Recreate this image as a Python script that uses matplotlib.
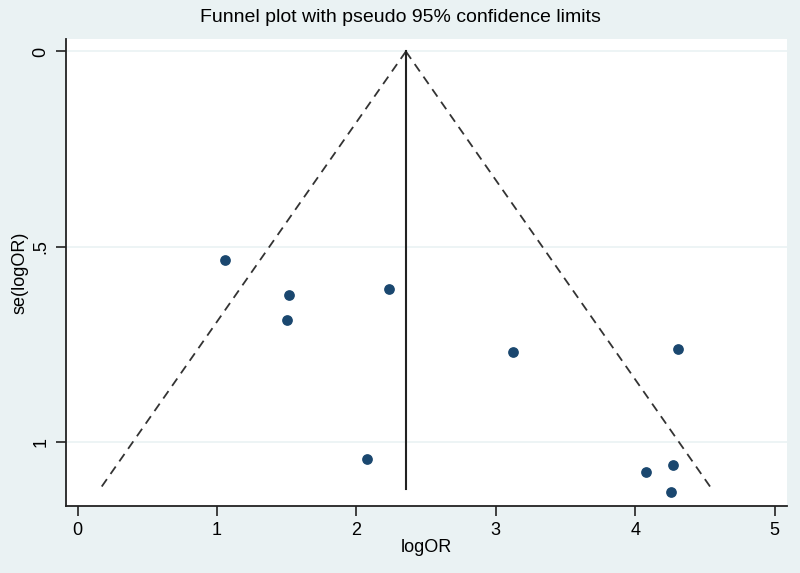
import numpy as np
import matplotlib.pyplot as plt

plt.rcParams["font.family"] = ["Liberation Sans", "DejaVu Sans"]

# study estimates
log_or = [1.055, 1.515, 1.50, 2.233, 2.075, 3.12, 4.31, 4.08, 4.27, 4.26]
se_log_or = [0.533, 0.623, 0.687, 0.608, 1.043, 0.769, 0.761, 1.077, 1.059, 1.128]

pooled = 2.355
se_max = 1.12

xticks = [0, 1, 2, 3, 4, 5]
yticks = [0, 0.5, 1]
ylabels = ["0", ".5", "1"]

bg = "#eaf2f3"
navy = "#1a476f"

fig = plt.figure(figsize=(8, 5.73), dpi=100, facecolor=bg)
ax = fig.add_axes([0.083, 0.1175, 0.901, 0.8145])
ax.set_facecolor("white")

for yt in yticks:
    ax.axhline(yt, color="#eaf2f3", linewidth=1.2, zorder=0)

se = np.array([0, se_max])
ax.plot(pooled - 1.96 * se, se, linestyle=(0, (5, 3.5)), color="#333333", linewidth=1.3)
ax.plot(pooled + 1.96 * se, se, linestyle=(0, (5, 3.5)), color="#333333", linewidth=1.3)
ax.plot([pooled, pooled], [0, se_max], color="#222222", linewidth=1.5)

ax.scatter(log_or, se_log_or, s=45, color=navy, marker="o", zorder=3)

ax.set_xlim(-0.08, 5.09)
ax.set_ylim(1.162, -0.032)

ax.spines["right"].set_visible(False)
ax.spines["top"].set_visible(False)
ax.spines["left"].set_color("#222222")
ax.spines["bottom"].set_color("#222222")
ax.spines["left"].set_linewidth(1.3)
ax.spines["bottom"].set_linewidth(1.3)

ax.set_xticks(xticks)
ax.set_xticklabels([str(t) for t in xticks], fontsize=13)
ax.set_yticks(yticks)
ax.set_yticklabels(ylabels, fontsize=13, rotation=90, va="center")
ax.tick_params(length=7, width=1.2, color="#222222", pad=5)

ax.set_xlabel("logOR", fontsize=13, labelpad=0)
ax.set_ylabel("se(logOR)", fontsize=13, labelpad=3)
fig.suptitle("Funnel plot with pseudo 95% confidence limits", fontsize=14, y=0.985)

fig.savefig("out.png", dpi=100, facecolor=bg)
